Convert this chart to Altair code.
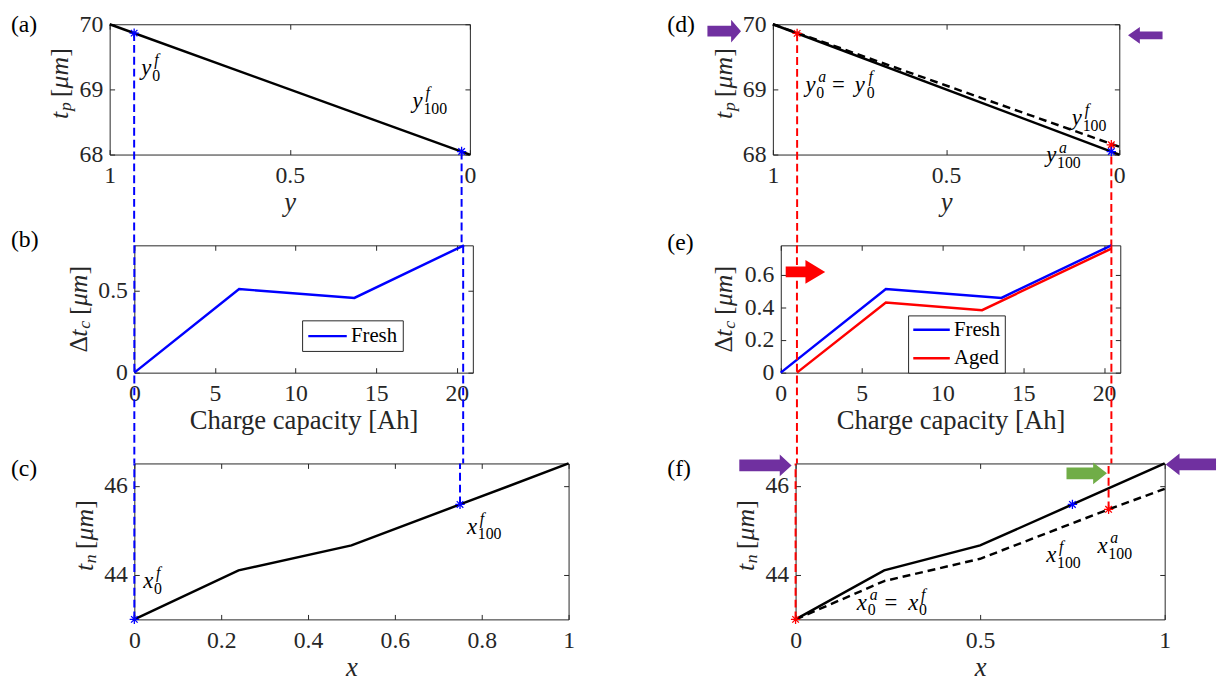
import altair as alt
import pandas as pd

FONT = "Liberation Serif"
AX = "#262626"
BLUE = "#0000FF"
RED = "#FF0000"
PURPLE = "#7030A0"
GREEN = "#70AD47"

# ---------------- data ----------------
# (a),(d): positive electrode thickness t_p vs stoichiometry y
y_line = [1.0, 0.0]
tp_fresh = [70.0, 68.0]
tp_aged = [70.0, 68.12]
a_star_y = [0.932, 0.023]
a_star_tp = [69.864, 68.046]
d_red_y = [0.930, 0.023]
d_red_tp = [69.86, 68.15]
d_blue_y = [0.023]
d_blue_tp = [68.046]

# (b),(e): cell thickness change vs charge capacity
cap_fresh = [0.0, 6.5, 13.65, 20.45]
dtc_fresh = [0.0, 0.512, 0.458, 0.78]
cap_aged = [1.0, 6.5, 12.45, 20.45]
dtc_aged = [0.0, 0.43, 0.383, 0.76]
b_guide_cap = [0.0, 20.4]
e_guide_cap = [1.0, 20.45]

# (c),(f): negative electrode thickness t_n vs stoichiometry x
x_fresh = [0.0, 0.24, 0.5, 0.75, 1.0]
tn_fresh = [43.0, 44.1, 44.66, 45.58, 46.5]
x_aged = [0.0, 0.24, 0.5, 0.848, 1.0]
tn_aged = [43.0, 43.86, 44.36, 45.47, 45.93]
c_star_x = [0.0, 0.75]
c_star_tn = [43.0, 45.58]
f_red_x = [0.0, 0.848]
f_red_tn = [43.0, 45.47]
f_blue_x = [0.75]
f_blue_tn = [45.58]

# annotation anchors (data coordinates)
a_lab_y = [0.912, 0.159]
a_lab_tp = [69.227, 68.712]
c_lab_x = [0.0205, 0.766]
c_lab_tn = [43.709, 44.927]
d_lab_y = [0.906, 0.137, 0.211]
d_lab_tp = [68.955, 68.455, 67.879]
f_lab_x = [0.166, 0.679, 0.818]
f_lab_tn = [43.221, 44.285, 44.484]

# arrow anchors (data coordinates)
d_arrow_y = [1.1405, -0.075]
d_arrow_tp = [69.894, 69.83]
e_arrow_cap = [1.526]
e_arrow_dtc = [0.617]
f_arrow_x = [-0.0816, 1.0709, 0.7888]
f_arrow_tn = [46.456, 46.478, 46.278]

# ---------------- layout ----------------
W_A, W_D, H1 = 365, 351, 132
W_B, W_E, H2 = 343, 344, 129
W_C, W_F, H3 = 440, 374, 158
GAP = 90

ASTER = "M-1,0L1,0M0,-1L0,1M-0.7,-0.7L0.7,0.7M-0.7,0.7L0.7,-0.7"
LEG_LINE = "M-1,0L3,0"


def arrow_path(W, H, Hs, Lh):
    s = Hs / W
    t = H / W
    xh = 1 - 2 * Lh / W
    return (f"M-1,{-s:.3f}L{xh:.3f},{-s:.3f}L{xh:.3f},{-t:.3f}L1,0"
            f"L{xh:.3f},{t:.3f}L{xh:.3f},{s:.3f}L-1,{s:.3f}Z")


def frame(df, xs, ys, xticks, yticks, w, h, xtitle, italic):
    base = alt.Chart(df).mark_point(opacity=0)
    lab = dict(labelFont=FONT, labelFontSize=24, labelColor=AX,
               labelFlush=False, labelOverlap=False, format="~g")
    l1 = base.encode(
        x=alt.X("x:Q", scale=xs, axis=alt.Axis(
            orient="bottom", values=xticks, ticks=False, tickSize=0,
            domain=True, domainColor=AX, labelPadding=9, title=xtitle,
            titleFont=FONT, titleFontSize=27,
            titleFontStyle="italic" if italic else "normal",
            titleFontWeight="normal", titleColor=AX, titlePadding=3, **lab)),
        y=alt.Y("y:Q", scale=ys, axis=alt.Axis(
            orient="left", values=yticks, ticks=False, tickSize=0,
            domain=True, domainColor=AX, labelPadding=7, title=None, **lab)))
    l2 = base.encode(
        x=alt.X("x:Q", scale=xs, axis=alt.Axis(
            orient="top", offset=-h, values=xticks, ticks=True, tickSize=5,
            tickColor=AX, domain=False, labels=False, title=None)),
        y=alt.Y("y:Q", scale=ys, axis=alt.Axis(
            orient="right", offset=-w, values=yticks, ticks=True, tickSize=5,
            tickColor=AX, domain=False, labels=False, title=None)))
    l3 = base.encode(
        x=alt.X("x:Q", scale=xs, axis=alt.Axis(
            orient="bottom", offset=-h, values=xticks, ticks=True, tickSize=5,
            tickColor=AX, domain=True, domainColor=AX, labels=False, title=None)),
        y=alt.Y("y:Q", scale=ys, axis=alt.Axis(
            orient="left", offset=-w, values=yticks, ticks=True, tickSize=5,
            tickColor=AX, domain=True, domainColor=AX, labels=False, title=None)))
    return [l1, l2, l3]


def xy(chart, xs, ys):
    return chart.encode(x=alt.X("x:Q", scale=xs, axis=None),
                        y=alt.Y("y:Q", scale=ys, axis=None))


def dfxy(xv, yv):
    return pd.DataFrame({"x": xv, "y": yv})


def line(xv, yv, xs, ys, color="black", dash=None):
    kw = dict(color=color, strokeWidth=2.5)
    if dash:
        kw["strokeDash"] = dash
    return xy(alt.Chart(dfxy(xv, yv)).mark_line(**kw), xs, ys)


def stars(xv, yv, xs, ys, color):
    return xy(alt.Chart(dfxy(xv, yv)).mark_point(
        shape=ASTER, filled=False, color=color, strokeWidth=1.3, size=90,
        opacity=1), xs, ys)


def guide_down(xv, yv, xs, ys, color, y2):
    return alt.Chart(dfxy(xv, yv)).mark_rule(
        color=color, strokeDash=[8, 4], strokeWidth=2).encode(
        x=alt.X("x:Q", scale=xs, axis=None),
        y=alt.Y("y:Q", scale=ys, axis=None), y2=alt.value(y2))


def guide_through(xv, xs, color, y2):
    return alt.Chart(pd.DataFrame({"x": xv})).mark_rule(
        color=color, strokeDash=[8, 4], strokeWidth=2).encode(
        x=alt.X("x:Q", scale=xs, axis=None), y=alt.value(0), y2=alt.value(y2))


def math_label(xv, yv, pieces, xs, ys):
    out = []
    d = dfxy([xv], [yv])
    for txt, dx, dy, size, it in pieces:
        out.append(xy(alt.Chart(d).mark_text(
            text=txt, dx=dx, dy=dy, fontSize=size, font=FONT,
            fontStyle="italic" if it else "normal", align="left",
            baseline="alphabetic", color="black"), xs, ys))
    return out


def ytitle(pieces, X, Y, start):
    out = []
    d = pd.DataFrame({"k": [0]})
    for txt, dx, dy, size, it in pieces:
        out.append(alt.Chart(d).mark_text(
            text=txt, dx=dx + start, dy=dy, fontSize=size, font=FONT,
            fontStyle="italic" if it else "normal", align="left",
            baseline="middle", angle=270, color=AX).encode(
            x=alt.value(X), y=alt.value(Y)))
    return out


def panel_tag(txt, X, Y):
    return alt.Chart(pd.DataFrame({"t": [txt]})).mark_text(
        font=FONT, fontSize=24, align="left", baseline="middle",
        color="black").encode(text="t:N", x=alt.value(X), y=alt.value(Y))


def arrow(xv, yv, xs, ys, color, W, H, Hs, Lh, ang):
    return xy(alt.Chart(dfxy([xv], [yv])).mark_point(
        shape=arrow_path(W, H, Hs, Lh), filled=True, size=W * W, color=color,
        opacity=1, angle=ang, strokeWidth=0), xs, ys)


def spacer(w, h):
    return alt.Chart(pd.DataFrame({"v": [0]})).mark_point(opacity=0).encode(
        x=alt.X("v:Q", axis=None), y=alt.Y("v:Q", axis=None)).properties(
        width=w, height=h)


def sub_sup(base, sub, sup, sup_it=True):
    return [(base, 0, 0, 23, True), (sub, 11, 6, 16, False),
            (sup, 13, -10, 16, sup_it)]


def legend(x, y, line_len, pad, row_pad):
    r = line_len / 2.0
    return alt.Legend(
        title=None, orient="none", legendX=x, legendY=y,
        symbolType=LEG_LINE, symbolSize=r * r, symbolStrokeWidth=2.5,
        symbolFillColor="transparent",
        labelFont=FONT, labelFontSize=21, labelColor="black",
        strokeColor=AX, fillColor="white", padding=pad,
        labelOffset=r + 3, rowPadding=row_pad)


TP_T = [("t", 0, 0, 26, True), ("p", 8, 6, 18, True), ("[", 22, 0, 26, False),
        ("μm", 31, 0, 26, True), ("]", 63, 0, 26, False)]
TN_T = [("t", 0, 0, 26, True), ("n", 8, 6, 18, True), ("[", 22, 0, 26, False),
        ("μm", 31, 0, 26, True), ("]", 63, 0, 26, False)]
DT_T = [("Δ", 0, 0, 26, False), ("t", 16, 0, 26, True), ("c", 24, 6, 18, True),
        ("[", 38, 0, 26, False), ("μm", 47, 0, 26, True), ("]", 79, 0, 26, False)]

# scales
s_y = alt.Scale(domain=[0, 1], reverse=True, nice=False, zero=False)
s_tp = alt.Scale(domain=[68, 70], nice=False, zero=False)
s_cap = alt.Scale(domain=[0, 21], nice=False, zero=False)
s_dt = alt.Scale(domain=[0, 0.78], nice=False, zero=False)
s_x = alt.Scale(domain=[0, 1], nice=False, zero=False)
s_tn = alt.Scale(domain=[43.0, 46.5], nice=False, zero=False)


def panel(layers, w, h):
    return alt.layer(*layers).resolve_axis(
        x="independent", y="independent").properties(width=w, height=h)


# ---------------- (a) ----------------
la = frame(dfxy(y_line, tp_fresh), s_y, s_tp, [0, 0.5, 1], [68, 69, 70],
           W_A, H1, "y", True)
la += [line(y_line, tp_fresh, s_y, s_tp),
       guide_down(a_star_y, a_star_tp, s_y, s_tp, BLUE, H1 + GAP + 2),
       stars(a_star_y, a_star_tp, s_y, s_tp, BLUE)]
la += math_label(a_lab_y[0], a_lab_tp[0], sub_sup("y", "0", "f"), s_y, s_tp)
la += math_label(a_lab_y[1], a_lab_tp[1], sub_sup("y", "100", "f"), s_y, s_tp)
la += ytitle(TP_T, -50, H1 / 2 - 5, -35)
la += [panel_tag("(a)", -100, 1)]
pa = panel(la, W_A, H1)

# ---------------- (b) ----------------
lb = frame(dfxy(cap_fresh, dtc_fresh), s_cap, s_dt, [0, 5, 10, 15, 20],
           [0, 0.5], W_B, H2, "Charge capacity [Ah]", False)
lb += [alt.Chart(pd.DataFrame({"x": cap_fresh, "y": dtc_fresh,
                               "s": ["Fresh"] * len(cap_fresh)})).mark_line(
    strokeWidth=2.5).encode(
    x=alt.X("x:Q", scale=s_cap, axis=None),
    y=alt.Y("y:Q", scale=s_dt, axis=None),
    color=alt.Color("s:N", scale=alt.Scale(domain=["Fresh"], range=[BLUE]),
                    legend=legend(170, 76, 39, 5, 6))),
    guide_through(b_guide_cap, s_cap, BLUE, H2 + GAP + 2)]
lb += ytitle(DT_T, -56, H2 / 2, -44)
lb += [panel_tag("(b)", -125, -5)]
pb = panel(lb, W_B, H2)

# ---------------- (c) ----------------
lc = frame(dfxy(x_fresh, tn_fresh), s_x, s_tn,
           [0, 0.2, 0.4, 0.6, 0.8, 1], [44, 46], W_C, H3, "x", True)
lc += [line(x_fresh, tn_fresh, s_x, s_tn),
       guide_down(c_star_x, c_star_tn, s_x, s_tn, BLUE, 0),
       stars(c_star_x, c_star_tn, s_x, s_tn, BLUE)]
lc += math_label(c_lab_x[0], c_lab_tn[0], sub_sup("x", "0", "f"), s_x, s_tn)
lc += math_label(c_lab_x[1], c_lab_tn[1], sub_sup("x", "100", "f"), s_x, s_tn)
lc += ytitle(TN_T, -50, H3 / 2 - 5, -35)
lc += [panel_tag("(c)", -125, 6)]
pc = panel(lc, W_C, H3)

# ---------------- (d) ----------------
ld = frame(dfxy(y_line, tp_fresh), s_y, s_tp, [0, 0.5, 1], [68, 69, 70],
           W_D, H1, "y", True)
ld += [line(y_line, tp_fresh, s_y, s_tp),
       line(y_line, tp_aged, s_y, s_tp, dash=[8, 5]),
       guide_down(d_red_y, d_red_tp, s_y, s_tp, RED, H1 + GAP + 2),
       stars(d_red_y, d_red_tp, s_y, s_tp, RED),
       stars(d_blue_y, d_blue_tp, s_y, s_tp, BLUE)]
ld += math_label(d_lab_y[0], d_lab_tp[0], [
    ("y", 0, 0, 23, True), ("a", 13, -10, 16, True), ("0", 11, 6, 16, False),
    ("=", 27, 0, 23, False),
    ("y", 50, 0, 23, True), ("f", 64, -10, 16, True), ("0", 62, 6, 16, False)],
    s_y, s_tp)
ld += math_label(d_lab_y[1], d_lab_tp[1], sub_sup("y", "100", "f"), s_y, s_tp)
ld += math_label(d_lab_y[2], d_lab_tp[2], sub_sup("y", "100", "a"), s_y, s_tp)
ld += [arrow(d_arrow_y[0], d_arrow_tp[0], s_y, s_tp, PURPLE, 34, 23, 11, 10, 0),
       arrow(d_arrow_y[1], d_arrow_tp[1], s_y, s_tp, PURPLE, 35, 17, 8, 12, 180)]
ld += ytitle(TP_T, -49, H1 / 2 - 5, -35)
ld += [panel_tag("(d)", -107, 1)]
pdd = panel(ld, W_D, H1)

# ---------------- (e) ----------------
e_df = pd.DataFrame({"x": cap_fresh + cap_aged, "y": dtc_fresh + dtc_aged,
                     "s": ["Fresh"] * len(cap_fresh) + ["Aged"] * len(cap_aged)})
le = frame(dfxy(cap_fresh, dtc_fresh), s_cap, s_dt, [0, 5, 10, 15, 20],
           [0, 0.2, 0.4, 0.6], W_E, H2, "Charge capacity [Ah]", False)
le += [alt.Chart(e_df).mark_line(strokeWidth=2.5).encode(
    x=alt.X("x:Q", scale=s_cap, axis=None),
    y=alt.Y("y:Q", scale=s_dt, axis=None),
    color=alt.Color("s:N", scale=alt.Scale(domain=["Fresh", "Aged"],
                                           range=[BLUE, RED]),
                    sort=["Fresh", "Aged"],
                    legend=legend(129, 71, 37, 4, 7))),
    guide_through(e_guide_cap, s_cap, RED, H2 + GAP + 2),
    arrow(e_arrow_cap[0], e_arrow_dtc[0], s_cap, s_dt, RED, 40, 24, 11, 20, 0)]
le += ytitle(DT_T, -57, H2 / 2, -44)
le += [panel_tag("(e)", -115, -2)]
pe = panel(le, W_E, H2)

# ---------------- (f) ----------------
lf = frame(dfxy(x_fresh, tn_fresh), s_x, s_tn, [0, 0.5, 1], [44, 46],
           W_F, H3, "x", True)
lf += [line(x_fresh, tn_fresh, s_x, s_tn),
       line(x_aged, tn_aged, s_x, s_tn, dash=[8, 5]),
       guide_down(f_red_x, f_red_tn, s_x, s_tn, RED, 0),
       stars(f_red_x, f_red_tn, s_x, s_tn, RED),
       stars(f_blue_x, f_blue_tn, s_x, s_tn, BLUE)]
lf += math_label(f_lab_x[0], f_lab_tn[0], [
    ("x", 0, 0, 23, True), ("a", 13, -10, 16, True), ("0", 11, 6, 16, False),
    ("=", 28, 0, 23, False),
    ("x", 52, 0, 23, True), ("f", 65, -10, 16, True), ("0", 63, 6, 16, False)],
    s_x, s_tn)
lf += math_label(f_lab_x[1], f_lab_tn[1], sub_sup("x", "100", "f"), s_x, s_tn)
lf += math_label(f_lab_x[2], f_lab_tn[2], sub_sup("x", "100", "a"), s_x, s_tn)
lf += [arrow(f_arrow_x[0], f_arrow_tn[0], s_x, s_tn, PURPLE, 53, 22, 12, 12, 0),
       arrow(f_arrow_x[1], f_arrow_tn[1], s_x, s_tn, PURPLE, 51, 22, 12, 14, 180),
       arrow(f_arrow_x[2], f_arrow_tn[2], s_x, s_tn, GREEN, 41, 22, 12, 14, 0)]
lf += ytitle(TN_T, -50, H3 / 2 - 5, -35)
lf += [panel_tag("(f)", -130, 6)]
pf = panel(lf, W_F, H3)

row1 = alt.hconcat(spacer(100, H1), pa, spacer(307, H1), pdd,
                   spacing=0, bounds="flush").resolve_scale(color="independent")
row2 = alt.hconcat(spacer(125, H2), pb, spacer(312, H2), pe,
                   spacing=0, bounds="flush").resolve_scale(color="independent")
row3 = alt.hconcat(spacer(125, H3), pc, spacer(230, H3), pf,
                   spacing=0, bounds="flush").resolve_scale(color="independent")

# nested rows count as zero height in a flush layout, so explicit
# vertical spacers carry the row pitch
chart = alt.vconcat(row1, spacer(1, H1 + GAP + 2), row2,
                    spacer(1, H2 + GAP + 2), row3,
                    spacing=0, bounds="flush").resolve_scale(
    color="independent").properties(padding=0).configure_view(
    stroke=None).configure_axis(grid=False)

chart.save("out.html", embed_options={"renderer": "svg", "actions": False})
